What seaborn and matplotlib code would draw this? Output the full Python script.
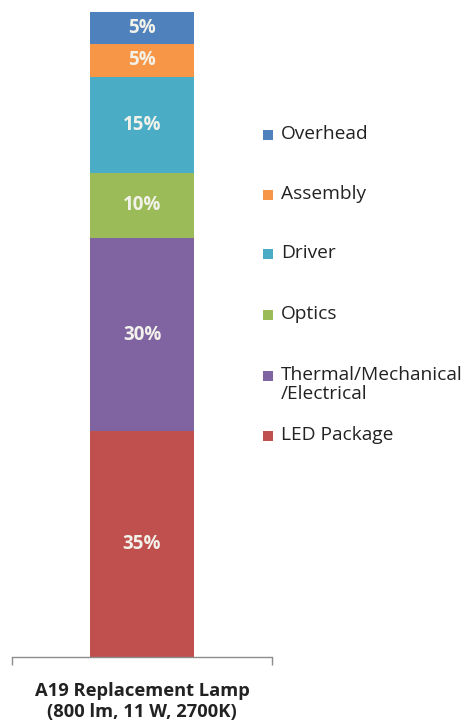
import matplotlib
matplotlib.use("Agg")
import matplotlib.pyplot as plt
from matplotlib.patches import Rectangle
from matplotlib.ticker import FixedLocator
import numpy as np
import pandas as pd
import seaborn as sns

# Cost breakdown of an LED A19 replacement lamp, bottom segment first
category = "A19 Replacement Lamp\n(800 lm, 11 W, 2700K)"
components = ["LED Package", "Thermal/Mechanical\n/Electrical", "Optics",
              "Driver", "Assembly", "Overhead"]
shares = [35, 30, 10, 15, 5, 5]
colors = ["#C0504D", "#8064A2", "#9BBB59", "#4BACC6", "#F79646", "#4F81BD"]

sns.set_style("white")
plt.rcParams["font.family"] = ["Open Sans", "DejaVu Sans"]

W, H = 470, 727
fig = plt.figure(figsize=(W / 100, H / 100), dpi=100)
ax = fig.add_axes([12 / W, 1 - 657 / H, 260 / W, 645 / H])

df = pd.DataFrame({"component": components, "share": shares, "color": colors})
df["top"] = df["share"].cumsum()
df["mid"] = df["top"] - df["share"] / 2
df["category"] = category

# Stack by drawing cumulative totals from the tallest down
for _, row in df.iloc[::-1].iterrows():
    sns.barplot(data=pd.DataFrame([row]), x="category", y="top", color=row["color"],
                width=0.4, linewidth=0, saturation=1, ax=ax)

for _, row in df.iterrows():
    ax.text(0, row["mid"], f"{row['share']}%", ha="center", va="center",
            fontsize=13.5, fontweight="bold", color="#f2f2ea")

ax.set_xlim(-0.5, 0.5)
ax.set_ylim(0, 100)
ax.set_ylabel("")
ax.set_xlabel("")
ax.set_yticks([])
for s in ["top", "left", "right"]:
    ax.spines[s].set_visible(False)
ax.spines["bottom"].set_color("#8c8c8c")
ax.spines["bottom"].set_linewidth(1.0)

ax.xaxis.set_minor_locator(FixedLocator([-0.5, 0.5]))
ax.tick_params(axis="x", which="minor", bottom=True, length=6, width=1.0,
               color="#8c8c8c", direction="out")
ax.tick_params(axis="x", which="major", length=0, pad=18)
for lbl in ax.get_xticklabels():
    lbl.set_fontsize(13.2)
    lbl.set_fontweight("bold")
    lbl.set_color("#222222")
    lbl.set_linespacing(1.2)

# Legend entries, top to bottom
legend_rows = [("Overhead", 135), ("Assembly", 195), ("Driver", 254),
               ("Optics", 315), ("Thermal/Mechanical\n/Electrical", 376),
               ("LED Package", 436)]
cmap = dict(zip(components, colors))
for name, ypx in legend_rows:
    fig.add_artist(Rectangle((263 / W, 1 - (ypx + 5) / H), 10 / W, 10 / H,
                             transform=fig.transFigure, color=cmap[name], lw=0))
    fig.text(281 / W, 1 - (ypx - 10) / H, name, ha="left", va="top",
             fontsize=13.8, color="#222222", linespacing=1.1)

fig.savefig("out.png", dpi=100)
